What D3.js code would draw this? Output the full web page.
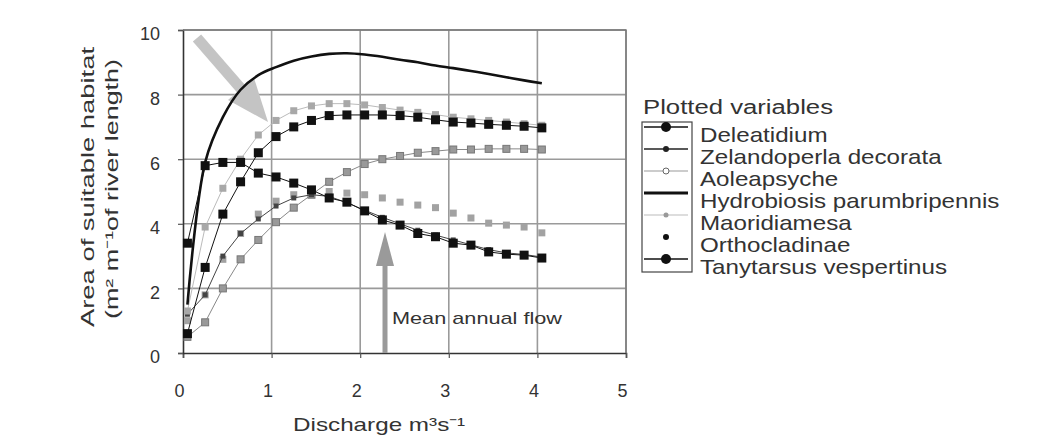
<!DOCTYPE html>
<html><head><meta charset="utf-8">
<script src="https://cdn.jsdelivr.net/npm/d3@7"></script>
<style>
html,body{margin:0;padding:0;background:#fff;}
svg{display:block;font-family:"Liberation Sans",Arial,sans-serif;}
</style></head>
<body>
<svg id="c" width="1046" height="437"></svg>
<script>
const discharge = [0.05,0.25,0.45,0.65,0.85,1.05,1.25,1.45,1.65,1.85,2.05,2.25,2.45,2.65,2.85,3.05,3.25,3.45,3.65,3.85,4.05];
const deleatidium  = [0.6,2.65,4.3,5.3,6.2,6.7,7.0,7.2,7.35,7.37,7.37,7.37,7.35,7.3,7.22,7.15,7.12,7.08,7.05,7.02,6.97];
const zelandoperla = [1.2,1.8,3.0,3.7,4.15,4.55,4.8,4.9,4.85,4.65,4.42,4.2,4.0,3.8,3.65,3.5,3.35,3.2,3.1,3.05,2.97];
const aoleapsyche  = [0.5,0.95,2.0,2.9,3.5,4.05,4.5,4.9,5.3,5.6,5.85,6.0,6.1,6.2,6.25,6.3,6.3,6.32,6.32,6.32,6.3];
const hydrobiosis  = [1.5,5.9,7.3,8.15,8.6,8.85,9.05,9.18,9.26,9.28,9.24,9.17,9.08,9.0,8.9,8.82,8.73,8.64,8.54,8.44,8.35];
const maoridiamesa = [1.3,3.9,5.1,6.0,6.75,7.2,7.5,7.65,7.72,7.72,7.68,7.6,7.52,7.45,7.38,7.3,7.25,7.2,7.15,7.1,7.05];
const orthocladinae= [1.0,1.8,2.9,3.7,4.3,4.7,4.9,5.0,5.0,4.95,4.9,4.8,4.67,4.58,4.5,4.33,4.18,4.02,3.96,3.9,3.72];
const tanytarsus   = [3.4,5.8,5.9,5.9,5.57,5.45,5.26,5.05,4.8,4.67,4.4,4.12,3.96,3.7,3.6,3.4,3.34,3.13,3.06,3.03,2.94];
const seriesNames  = ["Deleatidium","Zelandoperla decorata","Aoleapsyche","Hydrobiosis parumbripennis","Maoridiamesa","Orthocladinae","Tanytarsus vespertinus"];
const xTicks = [0,1,2,3,4,5];
const yTicks = [0,2,4,6,8,10];
const meanAnnualFlow = 2.28;

const svg = d3.select("#c");
const x = d3.scaleLinear().domain([0,5]).range([183,626]);
const y = d3.scaleLinear().domain([0,10]).range([353,30]);

// grid
const g = svg.append("g");
g.selectAll("line.v").data(xTicks.slice(1)).join("line")
  .attr("x1",d=>x(d)).attr("x2",d=>x(d)).attr("y1",y(0)).attr("y2",y(10))
  .attr("stroke","#9a9a9a").attr("stroke-width",1.6);
g.selectAll("line.h").data(yTicks.slice(1)).join("line")
  .attr("x1",x(0)).attr("x2",x(5)).attr("y1",d=>y(d)).attr("y2",d=>y(d))
  .attr("stroke","#9a9a9a").attr("stroke-width",1.6);

// axes
const xAxis = d3.axisBottom(x).tickValues(xTicks).tickSize(5).tickFormat(d3.format("d"));
const yAxis = d3.axisLeft(y).tickValues(yTicks).tickSize(5).tickFormat(d3.format("d"));
const gx = svg.append("g").attr("transform",`translate(0,${y(0)})`).call(xAxis);
const gy = svg.append("g").attr("transform",`translate(${x(0)},0)`).call(yAxis);
[gx,gy].forEach(a=>{
  a.select(".domain").attr("stroke","#333").attr("stroke-width",1.6);
  a.selectAll(".tick line").attr("stroke","#555").attr("stroke-width",1.2);
  a.selectAll("text").attr("font-family","Liberation Sans, Arial, sans-serif").attr("font-size",18).attr("fill","#333");
});
gx.selectAll("text").attr("dy","2.0em").attr("dx",-4);
gy.selectAll("text").attr("dx",-15).attr("dy","0.55em");

// axis titles
svg.append("text").attr("transform","translate(94,187) rotate(-90)").attr("text-anchor","middle")
  .attr("font-size",19).attr("fill","#333").attr("textLength",280).attr("lengthAdjust","spacingAndGlyphs")
  .text("Area of suitable habitat");
svg.append("text").attr("transform","translate(118,189) rotate(-90)").attr("text-anchor","middle")
  .attr("font-size",18).attr("fill","#333").attr("textLength",260).attr("lengthAdjust","spacingAndGlyphs")
  .text("(m² m⁻¹of river length)");
svg.append("text").attr("x",379).attr("y",431).attr("text-anchor","middle")
  .attr("font-size",19).attr("fill","#333").attr("textLength",172).attr("lengthAdjust","spacingAndGlyphs")
  .text("Discharge m³s⁻¹");

// plot frame (top/right)
svg.append("path").attr("d",`M${x(0)},${y(10)}H${x(5)}V${y(0)}`).attr("fill","none").attr("stroke","#777").attr("stroke-width",1.4);

// annotation arrows
svg.append("path").attr("d","M197,38 L243,91").attr("stroke","#c4c4c4").attr("stroke-width",11).attr("fill","none");
svg.append("path").attr("d","M268,122 L228,100 L254,78 Z").attr("fill","#c4c4c4");

const mx = x(meanAnnualFlow);
svg.append("line").attr("x1",mx).attr("x2",mx).attr("y1",y(0)).attr("y2",262)
  .attr("stroke","#9a9a9a").attr("stroke-width",5);
svg.append("path").attr("d",`M${mx},232 L${mx-9},266 L${mx+9},266 Z`).attr("fill","#9a9a9a");
svg.append("text").attr("x",mx+7).attr("y",324).attr("font-size",17).attr("fill","#333")
  .attr("textLength",170).attr("lengthAdjust","spacingAndGlyphs").text("Mean annual flow");

// series
const line = d3.line().x((d,i)=>x(discharge[i])).y(d=>y(d));
const smooth = d3.line().x((d,i)=>x(discharge[i])).y(d=>y(d)).curve(d3.curveCatmullRom);

function drawSeries(vals, opt){
  const sg = svg.append("g");
  if(opt.line){
    sg.append("path").attr("d",(opt.smooth?smooth:line)(vals)).attr("fill","none")
      .attr("stroke",opt.lineColor).attr("stroke-width",opt.lw);
  }
  if(opt.size){
    sg.selectAll("rect").data(vals).join("rect")
      .attr("x",(d,i)=>x(discharge[i])-opt.size/2).attr("y",d=>y(d)-opt.size/2)
      .attr("width",opt.size).attr("height",opt.size).attr("fill",opt.fill)
      .attr("stroke",opt.stroke||"none").attr("stroke-width",1);
  }
}
drawSeries(aoleapsyche,{line:true,lineColor:"#888",lw:1,size:7,fill:"#999",stroke:"#777"});
drawSeries(orthocladinae,{line:false,size:7,fill:"#a2a2a2"});
drawSeries(zelandoperla,{line:true,lineColor:"#444",lw:1,size:5,fill:"#444"});
drawSeries(maoridiamesa,{line:true,lineColor:"#bbb",lw:1,size:7,fill:"#a8a8a8"});
drawSeries(tanytarsus,{line:true,lineColor:"#111",lw:1,size:9,fill:"#111"});
drawSeries(deleatidium,{line:true,lineColor:"#111",lw:1,size:9,fill:"#111"});
drawSeries(hydrobiosis,{line:true,smooth:true,lineColor:"#111",lw:2.6});

// legend
svg.append("text").attr("x",643).attr("y",114).attr("font-size",20).attr("fill","#333")
  .attr("textLength",190).attr("lengthAdjust","spacingAndGlyphs").text("Plotted variables");
svg.append("rect").attr("x",642).attr("y",122).attr("width",50).attr("height",150)
  .attr("fill","none").attr("stroke","#444").attr("stroke-width",1.2);
const legY = d3.scalePoint().domain(seriesNames).range([135,267]);
const legStyle = [
  {lc:"#111",lw:1.5,r:5,mf:"#111"},
  {lc:"#222",lw:1.5,r:3,mf:"#222"},
  {lc:"#999",lw:1.2,r:3,mf:"#fff",ms:"#666"},
  {lc:"#111",lw:2.8,r:0},
  {lc:"#bbb",lw:1.2,r:2.5,mf:"#999"},
  {lc:null,r:3,mf:"#111"},
  {lc:"#111",lw:1.5,r:5,mf:"#111"}
];
const lg = svg.append("g");
seriesNames.forEach((n,i)=>{
  const cy = legY(n)-8, st = legStyle[i];
  if(st.lc) lg.append("line").attr("x1",644).attr("x2",688).attr("y1",cy).attr("y2",cy).attr("stroke",st.lc).attr("stroke-width",st.lw);
  if(st.r) lg.append("circle").attr("cx",666).attr("cy",cy).attr("r",st.r).attr("fill",st.mf).attr("stroke",st.ms||"none");
  const t = lg.append("text").attr("x",700).attr("y",legY(n)+7).attr("font-size",21).attr("fill","#333").text(n);
  const w = t.node().getComputedTextLength();
  t.attr("textLength",w*1.15).attr("lengthAdjust","spacingAndGlyphs");
});
</script>
</body></html>
